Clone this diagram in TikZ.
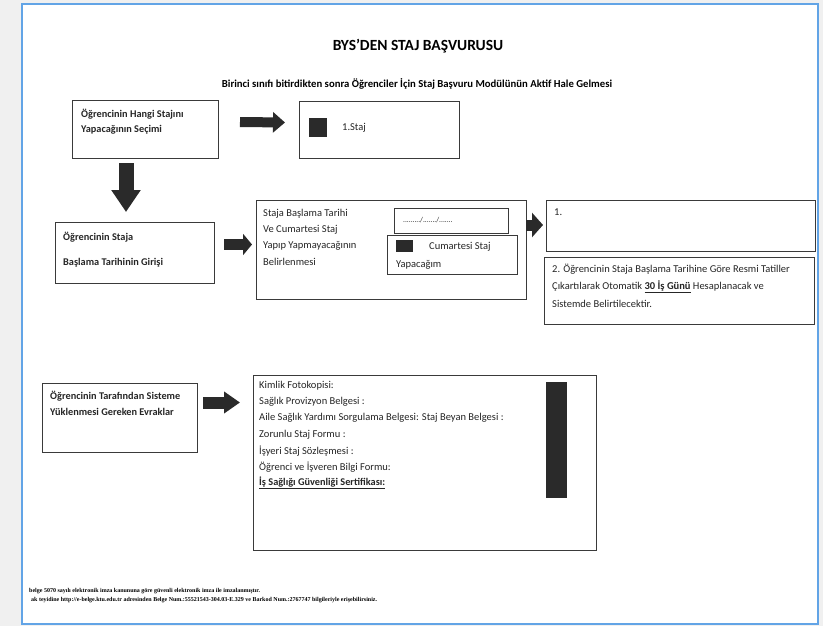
\documentclass[tikz,border=0pt]{standalone}
\usepackage{fontspec}
\setmainfont{Carlito}
\newfontfamily\footfont{Liberation Serif}
\usetikzlibrary{arrows.meta}
\definecolor{pagebg}{HTML}{F0F0F0}
\definecolor{pageline}{HTML}{62A4E6}
\definecolor{ink}{HTML}{2A2A2A}
\definecolor{boxline}{HTML}{3A3A3A}
\begin{document}
\begin{tikzpicture}[x=1pt,y=-1pt,
  box/.style={draw=boxline, line width=0.9pt, inner sep=0pt, outer sep=0pt, anchor=north west},
  txt/.style={inner sep=0pt, anchor=west, text=black!85, font=\fontsize{10.5}{12}\selectfont},
  btxt/.style={txt, font=\fontsize{10.3}{12}\selectfont\bfseries},
  barrow/.style n args={3}{draw=ink, line width=#1, -{Triangle[length=#2, width=#3, fill=ink]}},
  blkbox/.style={fill=ink, draw=none, inner sep=0pt, anchor=north west},
  foottxt/.style={inner sep=0pt, anchor=west, font=\footfont\fontsize{6}{7}\selectfont\bfseries}
  ]
\fill[pagebg] (0,0) rectangle (823,626);
\fill[white] (22,4) rectangle (818,624);
\draw[pageline, line width=2pt] (22,4) rectangle (818,624);
\useasboundingbox (0,0) rectangle (823,626);

% titles
\node[inner sep=0pt, font=\fontsize{15.5}{18}\selectfont\bfseries] (title) at (418,46) {BYS’DEN STAJ BAŞVURUSU};
\node[inner sep=0pt, font=\fontsize{10.7}{12}\selectfont\bfseries] (sub) at (417,84) {Birinci sınıfı bitirdikten sonra Öğrenciler İçin Staj Başvuru Modülünün Aktif Hale Gelmesi};

% row 1
\node[box, minimum width=146pt, minimum height=58pt] (a) at (72,100) {};
\node[btxt] (a1) at (81,114) {Öğrencinin Hangi Stajını};
\node[btxt] (a2) at (81,130) {Yapacağının Seçimi};

\node[box, minimum width=160pt, minimum height=57pt] (b) at (299,101) {};
\node[blkbox, minimum width=18pt, minimum height=19pt] (bsq) at (309,118) {};
\node[txt] (b1) at (342,128) {1.Staj};

\draw[barrow={10pt}{12pt}{20pt}] ([xshift=22pt,yshift=7pt]a.east) -- ([xshift=-14pt,yshift=7pt]b.west);

% row 2
\node[box, minimum width=159pt, minimum height=61pt] (c) at (55,222) {};
\node[btxt] (c1) at (63,237) {Öğrencinin Staja};
\node[btxt] (c2) at (63,263) {Başlama Tarihinin Girişi};

\draw[barrow={15pt}{22pt}{28pt}] ([xshift=-19pt,yshift=-5pt]a.south) -- ([xshift=-8.5pt,yshift=10pt]c.north);

\node[box, minimum width=270pt, minimum height=99pt] (d) at (256,200) {};
\node[txt] (d1) at (263,214) {Staja Başlama Tarihi};
\node[txt] (d2) at (263,230) {Ve Cumartesi Staj};
\node[txt] (d3) at (263,246) {Yapıp Yapmayacağının};
\node[txt] (d4) at (263,262) {Belirlenmesi};
\node[box, minimum width=114pt, minimum height=25pt] (date) at (394,208) {};
\node[txt, font=\fontsize{7.5}{8}\selectfont] (date1) at (403,220) {........./......./.......};
\node[box, minimum width=130pt, minimum height=39pt] (cum) at (387,235) {};
\node[blkbox, minimum width=17pt, minimum height=12pt] (csq) at (396,240) {};
\node[txt] (cum1) at (429,247) {Cumartesi Staj};
\node[txt] (cum2) at (396,265) {Yapacağım};

\draw[barrow={11pt}{9pt}{21pt}] ([xshift=10pt,yshift=8pt]c.east) -- ([xshift=-4pt,yshift=5pt]d.west);

\node[box, minimum width=269pt, minimum height=51pt] (e) at (546,200) {};
\node[txt] (e1) at (554,212) {1.};
\node[box, minimum width=270pt, minimum height=67pt] (f) at (544,257) {};
\node[txt] (f1) at (552,269) {2. Öğrencinin Staja Başlama Tarihine Göre Resmi Tatiller};
\node[txt] (f2) at (552,287) {Çıkartılarak Otomatik \textbf{\underline{30 İş Günü}} Hesaplanacak ve};
\node[txt] (f3) at (552,304) {Sistemde Belirtilecektir.};

\draw[barrow={11pt}{11pt}{24pt}] ([yshift=24.5pt]d.east) -- ([xshift=-3pt,yshift=0.5pt]e.west);

% row 3
\node[box, minimum width=155pt, minimum height=69pt] (g) at (42,383) {};
\node[btxt] (g1) at (50,396) {Öğrencinin Tarafından Sisteme};
\node[btxt] (g2) at (50,412) {Yüklenmesi Gereken Evraklar};

\node[box, minimum width=343pt, minimum height=175pt] (h) at (253,375) {};
\node[txt] (h1) at (259,386) {Kimlik Fotokopisi:};
\node[txt] (h2) at (259,402) {Sağlık Provizyon Belgesi :};
\node[txt] (h3) at (259,418) {Aile Sağlık Yardımı Sorgulama Belgesi: Staj Beyan Belgesi :};
\node[txt] (h4) at (259,435) {Zorunlu Staj Formu :};
\node[txt] (h5) at (259,451) {İşyeri Staj Sözleşmesi :};
\node[txt] (h6) at (259,467) {Öğrenci ve İşveren Bilgi Formu:};
\node[btxt] (h7) at (259,483) {\underline{İş Sağlığı Güvenliği Sertifikası:}};
\node[blkbox, minimum width=21pt, minimum height=116pt] (hbar) at (546,382) {};

\draw[barrow={12pt}{16pt}{21pt}] ([xshift=6pt,yshift=15pt]g.east) -- ([xshift=-13pt,yshift=60pt]h.west);

% footer
\node[foottxt] (ft1) at (29,591) {belge 5070 sayılı elektronik imza kanununa göre güvenli elektronik imza ile imzalanmıştır.};
\node[foottxt] (ft2) at (31,600) {ak teyidine http://e-belge.ktu.edu.tr adresinden Belge Num.:55521543-304.03-E.329 ve Barkod Num.:2767747 bilgileriyle erişebilirsiniz.};
\end{tikzpicture}
\end{document}
